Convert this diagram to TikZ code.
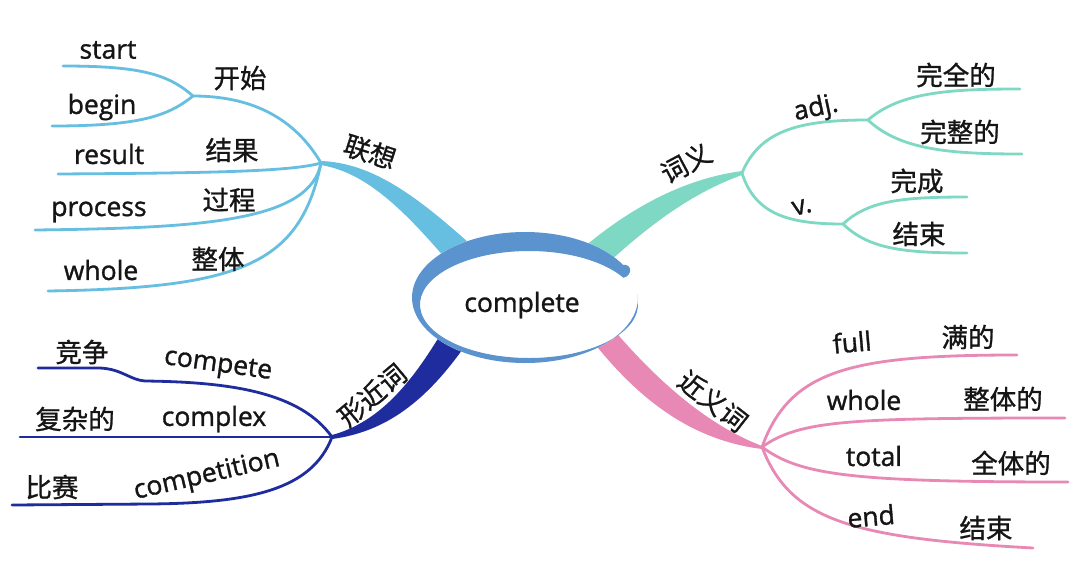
\documentclass[tikz,border=0pt]{standalone}
\usepackage{fontspec}
\setmainfont{Open Sans}[FakeBold=1.2]
\newfontfamily\cjk{Noto Sans CJK SC}[FakeBold=1.0]
\definecolor{cBlue}{HTML}{66BEE0}
\definecolor{cTeal}{HTML}{7FD8C3}
\definecolor{cNavy}{HTML}{1F2C9E}
\definecolor{cPink}{HTML}{E888B5}
\definecolor{cRing}{HTML}{5B93CF}
\definecolor{txt}{HTML}{151515}
\tikzset{
  lbl/.style={font=\fontsize{26.5}{26.5}\selectfont, text=txt, inner sep=0pt},
  zh/.style={font=\cjk\fontsize{26.5}{26.5}\selectfont, text=txt, inner sep=0pt},
  thinb/.style={line width=2.8pt, line cap=round},
}
\begin{document}
\begin{tikzpicture}[x=1pt,y=-1pt]
\useasboundingbox (0,0) rectangle (1080,574);
\fill[white] (0,0) rectangle (1080,574);

% hubs and ends
\coordinate (H1) at (321,163);
\coordinate (K) at (193,96);
\coordinate (Lstart) at (63,66);
\coordinate (Lbegin) at (52,126);
\coordinate (Lresult) at (58,174);
\coordinate (Lprocess) at (35,230);
\coordinate (Lwhole) at (48,291);

\coordinate (H2) at (742,173);
\coordinate (A) at (868,120);
\coordinate (V) at (843,224);
\coordinate (R1) at (1020,89);
\coordinate (R2) at (1022,154);
\coordinate (R3) at (967,197);
\coordinate (R4) at (967,253);

\coordinate (H3) at (332,437);
\coordinate (B1) at (38,368);
\coordinate (B2) at (20,437);
\coordinate (B3) at (12,505);

\coordinate (H4) at (762,447);
\coordinate (P1) at (1017,355);
\coordinate (P2) at (1065,418);
\coordinate (P3) at (1068,482);
\coordinate (P4) at (1033,548);

% thick branches
\fill[cBlue] (321,161) .. controls (370,163) and (412,192) .. (469,243) -- (445,258) .. controls (397,202) and (362,172) .. (321,165) -- cycle;
\fill[cTeal] (742,171) .. controls (690,178) and (638,202) .. (584,247) -- (608,263) .. controls (658,217) and (700,190) .. (742,175) -- cycle;
\fill[cNavy] (332,435) .. controls (380,422) and (412,382) .. (442,332) -- (469,340) .. controls (427,402) and (385,432) .. (332,439) -- cycle;
\fill[cPink] (587,334) .. controls (636,398) and (690,440) .. (762,449) -- (762,446) .. controls (715,428) and (666,391) .. (613,329) -- cycle;

% thin connectors: 联想
\draw[thinb,cBlue] (H1) .. controls (290,110) and (240,96) .. (K);
\draw[thinb,cBlue] (K) .. controls (168,74) and (140,66) .. (Lstart);
\draw[thinb,cBlue] (K) .. controls (168,116) and (140,126) .. (Lbegin);
\draw[thinb,cBlue] (H1) .. controls (290,172) and (200,173) .. (Lresult);
\draw[thinb,cBlue] (H1) .. controls (310,222) and (200,228) .. (Lprocess);
\draw[thinb,cBlue] (H1) .. controls (300,265) and (240,288) .. (Lwhole);

% 词义
\draw[thinb,cTeal] (H2) .. controls (760,130) and (800,120) .. (A);
\draw[thinb,cTeal] (A) .. controls (900,92) and (950,89) .. (R1);
\draw[thinb,cTeal] (A) .. controls (900,150) and (950,154) .. (R2);
\draw[thinb,cTeal] (H2) .. controls (755,215) and (790,224) .. (V);
\draw[thinb,cTeal] (V) .. controls (868,201) and (900,197) .. (R3);
\draw[thinb,cTeal] (V) .. controls (868,248) and (900,253) .. (R4);

% 形近词
\draw[thinb,cNavy] (H3) .. controls (300,392) and (230,382) .. (145,381) .. controls (130,380) and (122,369) .. (100,368) -- (B1);
\draw[thinb,cNavy] (H3) -- (B2);
\draw[thinb,cNavy] (H3) .. controls (312,490) and (250,503) .. (150,504) -- (B3);

% 近义词
\draw[thinb,cPink] (H4) .. controls (790,370) and (850,355) .. (P1);
\draw[thinb,cPink] (H4) .. controls (800,420) and (850,418) .. (P2);
\draw[thinb,cPink] (H4) .. controls (800,475) and (850,482) .. (P3);
\draw[thinb,cPink] (H4) .. controls (790,520) and (850,538) .. (P4);

% central ellipse
\fill[white] (525,297.5) ellipse [x radius=113, y radius=65.5];
\fill[cRing] (622.9,264.75) arc[start angle=-30, end angle=-363, x radius=113, y radius=65.5]
  -- (637.85,301.7) arc[start angle=-363, end angle=-30, x radius=109, y radius=53.5]
  .. controls (632,276) and (633,264) .. (622.9,264.75) -- cycle;
\node[lbl] (center) at (522,305) {complete};

% labels 联想
\node[zh, rotate=-18] (lx) at (370,152) {联想};
\node[zh] (ks) at (240,78) {开始};
\node[lbl] (tstart) at (108,50) {start};
\node[lbl] (tbegin) at (102,107) {begin};
\node[zh] (jg) at (232,150) {结果};
\node[lbl] (tresult) at (109,154) {result};
\node[zh] (gc) at (229,200) {过程};
\node[lbl] (tprocess) at (99,212) {process};
\node[zh] (zt) at (218,259) {整体};
\node[lbl] (twhole) at (101,270) {whole};

% labels 词义
\node[zh, rotate=28] (cy) at (686,163) {词义};
\node[lbl, rotate=12] (tadj) at (816,109) {adj.};
\node[zh] (wqd) at (956,75) {完全的};
\node[zh] (wzd) at (960,132) {完整的};
\node[lbl, rotate=14] (tv) at (802,207) {v.};
\node[zh] (wc) at (917,181) {完成};
\node[zh] (js1) at (919,234) {结束};

% labels 形近词
\node[zh, rotate=40] (xjc) at (372,395) {形近词};
\node[zh] (jz) at (82,352) {竞争};
\node[lbl, rotate=-8] (tcompete) at (218,366) {compete};
\node[zh] (fzd) at (75,419) {复杂的};
\node[lbl] (tcomplex) at (214,419) {complex};
\node[zh] (bs) at (52,487) {比赛};
\node[lbl, rotate=13] (tcompetition) at (207,476) {competition};

% labels 近义词
\node[zh, rotate=-38] (jyc) at (713,401) {近义词};
\node[lbl, rotate=5] (tfull) at (852,342) {full};
\node[zh] (md) at (968,337) {满的};
\node[lbl] (twhole2) at (864,400) {whole};
\node[zh] (ztd) at (1003,399) {整体的};
\node[lbl] (ttotal) at (874,456) {total};
\node[zh] (qtd) at (1011,463) {全体的};
\node[lbl, rotate=5] (tend) at (871,516) {end};
\node[zh] (js2) at (986,528) {结束};
\end{tikzpicture}
\end{document}
